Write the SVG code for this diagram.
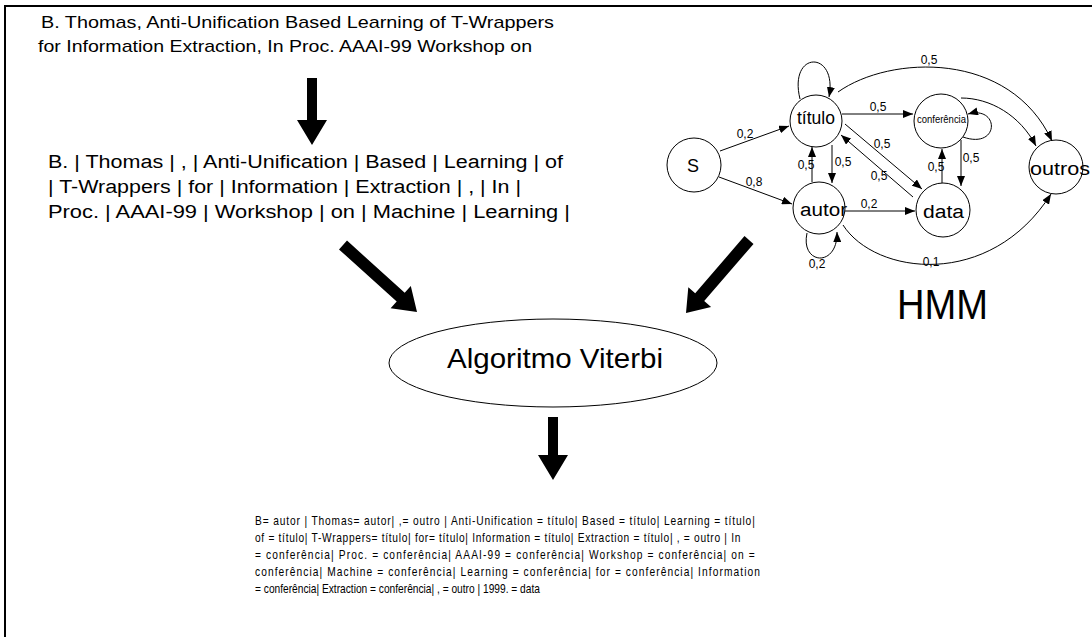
<svg xmlns="http://www.w3.org/2000/svg" width="1092" height="637" viewBox="0 0 1092 637">
<defs>
<style>
text{font-family:"Liberation Sans",Arial,sans-serif;fill:#000}
.t17{font-size:17px}
.t18{font-size:18px}
.t12{font-size:12px}
.lbl{font-size:12px;text-anchor:middle}
.node{fill:#fff;stroke:#000;stroke-width:1}
.edge{fill:none;stroke:#000;stroke-width:1;marker-end:url(#ah)}
.big{fill:#000}
</style>
<marker id="ah" markerWidth="10" markerHeight="8" refX="10" refY="4" orient="auto" markerUnits="userSpaceOnUse">
<path d="M0,0 L10,4 L0,8 z" fill="#000"/>
</marker>
</defs>
<rect width="1092" height="637" fill="#fff"/>
<path d="M5,637 V6 H1092" fill="none" stroke="#000" stroke-width="2"/>

<g id="source-text">
<text class="t17" x="41" y="28" textLength="513" lengthAdjust="spacingAndGlyphs">B. Thomas, Anti-Unification Based Learning of T-Wrappers</text>
<text class="t17" x="38" y="52" textLength="494" lengthAdjust="spacingAndGlyphs">for Information Extraction, In  Proc. AAAI-99 Workshop on</text>
</g>

<g id="tokens">
<text class="t18" x="48" y="168" textLength="515" lengthAdjust="spacingAndGlyphs">B. | Thomas | , | Anti-Unification | Based | Learning | of</text>
<text class="t18" x="48" y="193" textLength="473" lengthAdjust="spacingAndGlyphs">| T-Wrappers | for | Information | Extraction | , | In |</text>
<text class="t18" x="48" y="218" textLength="522" lengthAdjust="spacingAndGlyphs">Proc. | AAAI-99 | Workshop | on | Machine | Learning |</text>
</g>

<g id="viterbi">
<ellipse class="node" cx="553" cy="363" rx="164" ry="44"/>
<text x="447" y="368" font-size="28" textLength="216" lengthAdjust="spacingAndGlyphs">Algoritmo Viterbi</text>
</g>

<g id="result" transform="translate(255,0) scale(0.85,1)">
<text class="t12" x="0" y="525" textLength="588" lengthAdjust="spacing">B= autor | Thomas= autor| ,= outro | Anti-Unification = título| Based = título| Learning = título|</text>
<text class="t12" x="0" y="542" textLength="571" lengthAdjust="spacing">of = título| T-Wrappers= título| for= título| Information = título| Extraction = título| , = outro | In</text>
<text class="t12" x="0" y="559" textLength="588" lengthAdjust="spacing">= conferência| Proc. = conferência| AAAI-99 = conferência| Workshop = conferência| on =</text>
<text class="t12" x="0" y="576" textLength="594" lengthAdjust="spacing">conferência| Machine = conferência| Learning = conferência| for = conferência| Information</text>
<text class="t12" x="0" y="593">= conferência| Extraction = conferência| , = outro | 1999. = data</text>
</g>

<g id="hmm-label">
<text x="897" y="319" font-size="43" textLength="91" lengthAdjust="spacingAndGlyphs">HMM</text>
</g>

<g id="node-S"><circle class="node" cx="694" cy="165" r="27"/><text class="t18" x="693" y="172" text-anchor="middle">S</text></g>
<g id="node-titulo"><circle class="node" cx="816" cy="121" r="26"/><text class="t18" x="797" y="124" textLength="38" lengthAdjust="spacingAndGlyphs">título</text></g>
<g id="node-conferencia"><circle class="node" cx="941" cy="121" r="27"/><text x="917" y="123" font-size="11" textLength="49" lengthAdjust="spacingAndGlyphs">conferência</text></g>
<g id="node-autor"><circle class="node" cx="819" cy="208" r="26"/><text class="t18" x="800" y="216" textLength="47" lengthAdjust="spacingAndGlyphs">autor</text></g>
<g id="node-data"><circle class="node" cx="943" cy="210" r="27"/><text class="t18" x="923" y="218" textLength="41" lengthAdjust="spacingAndGlyphs">data</text></g>
<g id="node-outros"><circle class="node" cx="1056" cy="167" r="27"/><text class="t18" x="1030" y="175" textLength="60" lengthAdjust="spacingAndGlyphs">outros</text></g>

<g id="connectors">
<path class="big" d="M307,78 H317 V120 H327 L312,145 L297,120 H307 Z"/>
<path class="big" d="M347,240.6 L404.7,292.8 L410.8,286.1 L417,312 L390.6,308.3 L396.7,301.6 L339,249.4 Z"/>
<path class="big" d="M744.5,236.1 L753.5,243.9 L704.2,301 L711.1,306.9 L686,313 L688.3,287.3 L695.2,293.2 Z"/>
<path class="big" d="M548,417 H558 V455 H568 L553,480 L538,455 H548 Z"/>

<path class="edge" d="M720,151 L789,126"/>
<path class="edge" d="M719,177 L792,204"/>
<path class="edge" d="M800,99 C788,50 838,50 829,97"/>
<path class="edge" d="M838,92 C890,55 1010,50 1052,141"/>
<path class="edge" d="M842,114 L913,114"/>
<path class="edge" d="M963,137 C1000,150 1000,105 968,114"/>
<path class="edge" d="M961,98 C990,98 1020,115 1036,146"/>
<path class="edge" d="M812,182 L812,147"/>
<path class="edge" d="M832,145 L832,183"/>
<path class="edge" d="M845,124 L922,189"/>
<path class="edge" d="M913,197 L841,135"/>
<path class="edge" d="M942,183 L942,149"/>
<path class="edge" d="M961,140 L961,186"/>
<path class="edge" d="M845,211 L915,211"/>
<path class="edge" d="M807,233 C800,265 838,268 837,232"/>
<path class="edge" d="M843,225 C875,275 990,290 1051,194"/>

<text class="lbl" x="745" y="138">0,2</text>
<text class="lbl" x="754" y="186">0,8</text>
<text class="lbl" x="929" y="64">0,5</text>
<text class="lbl" x="878" y="111">0,5</text>
<text class="lbl" x="882" y="148">0,5</text>
<text class="lbl" x="806" y="169">0,5</text>
<text class="lbl" x="843" y="166">0,5</text>
<text class="lbl" x="879" y="180">0,5</text>
<text class="lbl" x="936" y="171">0,5</text>
<text class="lbl" x="971" y="162">0,5</text>
<text class="lbl" x="869" y="208">0,2</text>
<text class="lbl" x="817" y="268">0,2</text>
<text class="lbl" x="931" y="266">0,1</text>
</g>
</svg>
